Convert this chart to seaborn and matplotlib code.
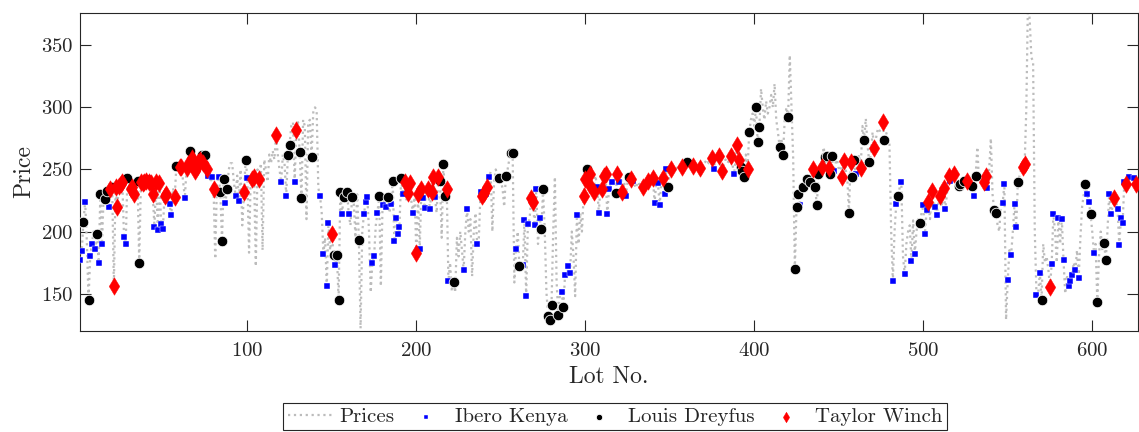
import pandas as pd
import seaborn as sns
import matplotlib.pyplot as plt

# price per lot, lots 1..627
prices = [
    177, 184, 208, 224, 192, 145, 180, 190, 200, 186,
    198, 175, 230, 190, 232, 226, 233, 220, 234, 236,
    156, 236, 220, 237, 238, 240, 196, 190, 243, 240,
    234, 236, 230, 238, 241, 175, 240, 239, 240, 241,
    243, 240, 239, 230, 204, 240, 201, 239, 206, 202,
    229, 230, 226, 222, 213, 235, 228, 253, 250, 252,
    252, 240, 227, 251, 254, 265, 259, 257, 249, 252,
    256, 258, 262, 255, 262, 250, 245, 240, 244, 234,
    178, 240, 244, 232, 192, 242, 223, 234, 250, 255,
    255, 240, 229, 245, 225, 250, 205, 232, 258, 243,
    183, 245, 242, 244, 172, 250, 242, 255, 185, 258,
    250, 240, 262, 255, 265, 258, 278, 262, 250, 240,
    262, 255, 229, 262, 270, 285, 288, 240, 282, 288,
    264, 227, 290, 285, 210, 288, 290, 260, 296, 300,
    298, 235, 229, 215, 182, 195, 156, 207, 185, 198,
    181, 173, 181, 145, 232, 214, 228, 225, 232, 214,
    205, 228, 222, 195, 230, 193, 122, 200, 214, 224,
    228, 200, 151, 175, 180, 205, 215, 229, 156, 221,
    225, 220, 228, 215, 222, 241, 192, 211, 198, 204,
    243, 230, 240, 225, 231, 239, 225, 215, 230, 183,
    230, 186, 234, 227, 219, 235, 234, 218, 232, 244,
    228, 215, 244, 241, 195, 254, 229, 234, 160, 175,
    152, 159, 151, 195, 180, 200, 185, 169, 200, 218,
    200, 210, 164, 200, 215, 190, 195, 232, 229, 231,
    230, 236, 244, 248, 200, 240, 250, 245, 243, 240,
    235, 220, 245, 250, 258, 263, 263, 159, 186, 200,
    172, 175, 173, 209, 148, 206, 210, 227, 224, 205,
    234, 190, 211, 202, 234, 200, 151, 132, 129, 141,
    200, 244, 160, 133, 150, 151, 139, 165, 162, 172,
    167, 200, 180, 148, 213, 190, 215, 200, 229, 242,
    250, 238, 246, 230, 232, 245, 236, 215, 238, 234,
    245, 246, 214, 234, 240, 240, 242, 231, 246, 240,
    245, 232, 240, 229, 240, 244, 242, 241, 238, 235,
    240, 238, 240, 236, 236, 240, 241, 243, 240, 243,
    223, 240, 239, 221, 240, 243, 230, 250, 236, 248,
    250, 252, 250, 251, 253, 250, 252, 253, 254, 256,
    252, 254, 252, 253, 255, 252, 254, 251, 253, 255,
    256, 258, 255, 257, 259, 250, 258, 256, 261, 255,
    249, 255, 258, 255, 257, 261, 255, 246, 258, 270,
    258, 252, 249, 244, 262, 250, 280, 290, 295, 285,
    300, 272, 284, 315, 300, 290, 305, 295, 300, 310,
    300, 319, 290, 280, 268, 275, 262, 290, 300, 292,
    342, 300, 260, 170, 220, 230, 221, 232, 236, 238,
    242, 240, 240, 245, 250, 236, 221, 246, 255, 252,
    268, 260, 261, 251, 246, 261, 249, 255, 258, 250,
    252, 244, 257, 250, 245, 215, 256, 244, 258, 246,
    255, 262, 251, 285, 274, 291, 270, 256, 262, 280,
    267, 275, 282, 280, 285, 288, 274, 280, 275, 270,
    200, 160, 200, 222, 229, 235, 240, 180, 166, 190,
    200, 205, 176, 209, 182, 200, 210, 207, 215, 221,
    198, 217, 224, 210, 233, 225, 220, 213, 225, 229,
    220, 235, 218, 230, 245, 241, 240, 246, 242, 240,
    237, 238, 242, 241, 240, 241, 245, 240, 237, 229,
    245, 268, 240, 245, 242, 240, 245, 235, 250, 275,
    230, 217, 215, 205, 200, 225, 223, 238, 129, 161,
    185, 181, 200, 222, 204, 240, 245, 250, 252, 254,
    300, 390, 370, 340, 337, 200, 149, 150, 167, 145,
    190, 175, 180, 170, 155, 174, 214, 200, 175, 211,
    190, 210, 177, 150, 165, 156, 160, 165, 175, 169,
    185, 163, 195, 220, 230, 238, 230, 224, 214, 200,
    183, 190, 143, 180, 200, 185, 191, 177, 200, 230,
    214, 220, 227, 225, 218, 189, 211, 207, 240, 238,
    235, 244, 240, 238, 243, 238, 240,
]

# lots bought by each buyer
ibero_lots = [
    1, 2, 4, 7, 8, 10, 12, 14, 18, 27, 28, 41, 45, 47, 49, 50, 54, 55, 63, 77,
    79, 83, 87, 93, 95, 100, 120, 123, 128, 143, 145, 147, 148, 152, 156, 160,
    169, 170, 171, 174, 175, 177, 180, 182, 185, 187, 188, 189, 190, 192, 198,
    202, 204, 205, 208, 211, 219, 228, 230, 236, 238, 241, 243, 259, 263, 264,
    265, 266, 270, 271, 273, 286, 288, 290, 291, 295, 307, 308, 313, 314, 316,
    320, 324, 328, 335, 341, 343, 344, 347, 348, 376, 388, 427, 447, 460, 482,
    484, 487, 489, 493, 495, 500, 501, 502, 507, 508, 513, 516, 530, 538, 547,
    548, 550, 552, 554, 555, 567, 569, 576, 577, 580, 582, 583, 586, 587, 588,
    590, 592, 597, 598, 601, 610, 611, 615, 616, 617, 618, 619, 622, 625,
]
dreyfus_lots = [
    3, 6, 11, 13, 16, 17, 20, 29, 35, 36, 58, 66, 73, 75, 84, 85, 86, 88, 99,
    124, 125, 131, 132, 138, 151, 153, 154, 155, 157, 159, 162, 166, 178, 183,
    186, 191, 214, 216, 217, 222, 249, 253, 256, 257, 261, 274, 275, 278, 279,
    280, 284, 287, 301, 318, 326, 349, 360, 392, 393, 394, 397, 401, 402, 403,
    415, 417, 420, 424, 425, 426, 429, 431, 433, 436, 437, 438, 442, 443, 445,
    446, 456, 458, 459, 465, 468, 477, 485, 498, 521, 522, 524, 529, 531, 542,
    543, 556, 570, 596, 599, 603, 607, 608,
]
winch_lots = [
    19, 21, 22, 23, 24, 25, 26, 31, 32, 33, 37, 38, 39, 40, 42, 43, 44, 46, 48,
    51, 52, 57, 60, 61, 64, 65, 67, 68, 69, 70, 71, 72, 74, 76, 80, 98, 103,
    104, 107, 117, 129, 150, 193, 195, 196, 200, 201, 203, 207, 209, 210, 213,
    218, 239, 240, 242, 268, 269, 299, 300, 302, 303, 305, 310, 311, 312, 319,
    322, 327, 334, 337, 340, 346, 351, 357, 364, 368, 375, 379, 381, 386, 390,
    391, 396, 435, 440, 444, 452, 453, 457, 463, 471, 476, 503, 505, 510, 512,
    515, 518, 526, 536, 537, 559, 560, 575, 613, 620, 626,
]

sns.set_style("ticks")
plt.rcParams["font.family"] = ["cmr10", "DejaVu Serif"]
plt.rcParams["mathtext.fontset"] = "cm"
plt.rcParams["axes.formatter.use_mathtext"] = True
plt.rcParams["axes.unicode_minus"] = False

price_df = pd.DataFrame({"Lot": range(1, len(prices) + 1), "Price": prices})


def buyer_df(lots):
    return price_df[price_df["Lot"].isin(lots)]


fig, ax = plt.subplots(figsize=(11.39, 4.32), dpi=100)
fig.subplots_adjust(left=0.0703, right=0.999, top=0.970, bottom=0.234)

sns.lineplot(data=price_df, x="Lot", y="Price", ax=ax, color="#bcbcbc",
             linestyle=":", linewidth=1.6, label="Prices", zorder=1)
sns.scatterplot(data=buyer_df(ibero_lots), x="Lot", y="Price", ax=ax,
                marker="s", s=20, color="#0000ff", edgecolor="white",
                linewidth=0.3, label="Ibero Kenya", zorder=3)
sns.scatterplot(data=buyer_df(dreyfus_lots), x="Lot", y="Price", ax=ax,
                marker="o", s=58, color="black", edgecolor="white",
                linewidth=0.6, label="Louis Dreyfus", zorder=4)
sns.scatterplot(data=buyer_df(winch_lots), x="Lot", y="Price", ax=ax,
                marker="d", s=80, color="#ff0000", edgecolor="#ff0000",
                linewidth=0.3, label="Taylor Winch", zorder=5)

ax.set_xlim(1, 627)
ax.set_ylim(120, 376)
ax.set_xticks([100, 200, 300, 400, 500, 600])
ax.set_yticks([150, 200, 250, 300, 350])
ax.tick_params(direction="in", length=8, width=0.8, labelsize=15,
               top=True, right=True, color="#262626")
ax.tick_params(axis="y", pad=5)
ax.tick_params(axis="x", pad=8)
for spine in ax.spines.values():
    spine.set_visible(True)
    spine.set_color("#262626")
    spine.set_linewidth(0.8)

ax.set_xlabel("Lot No.", fontsize=17)
ax.set_ylabel("Price", fontsize=17)

# legend hangs off the bottom edge like the original export
leg = ax.legend(loc="upper center", bbox_to_anchor=(0.540, 0.066),
                bbox_transform=fig.transFigure, borderaxespad=0, ncol=4,
                fontsize=15, frameon=True, fancybox=False, edgecolor="#262626",
                framealpha=1, handlelength=2.2, handletextpad=0.3,
                columnspacing=0.4, borderpad=0.2, markerscale=0.6)
leg.get_frame().set_linewidth(0.8)

fig.savefig("out.png", dpi=100)
